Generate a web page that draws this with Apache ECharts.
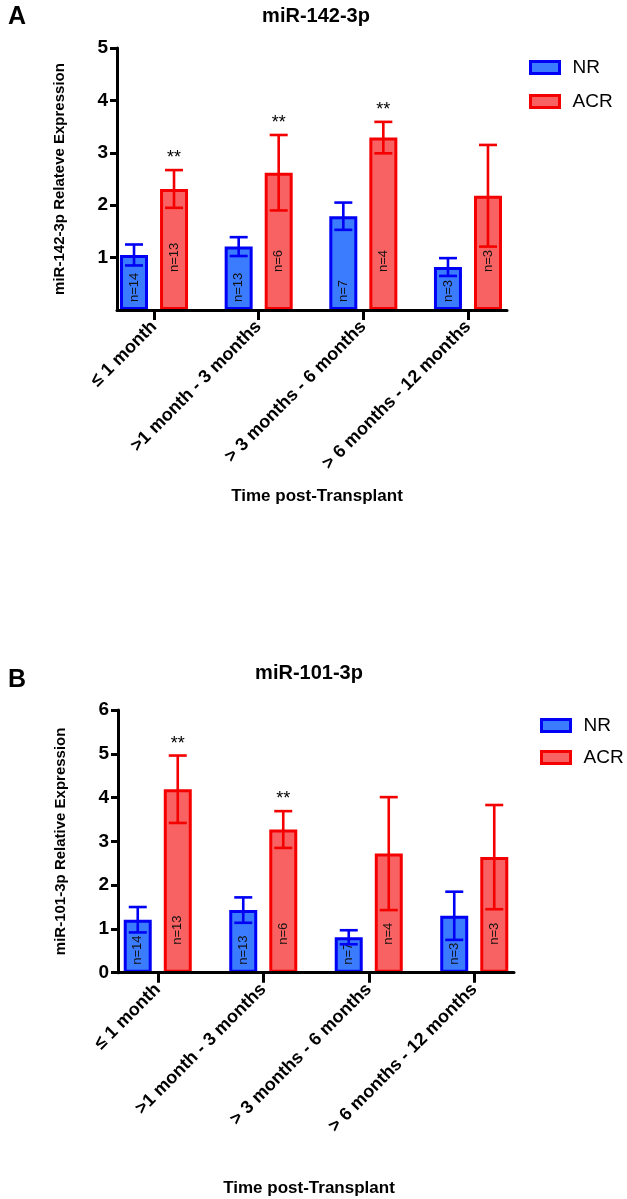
<!DOCTYPE html>
<html>
<head>
<meta charset="utf-8">
<script src="https://cdn.jsdelivr.net/npm/echarts@6/dist/echarts.min.js"></script>
<style>
html,body{margin:0;padding:0;background:#fff;}
#chart{width:627px;height:1199px;}
</style>
</head>
<body>
<div id="chart"></div>
<script>
// ---------- data ----------
const categories = ['≤ 1 month', '>1 month - 3 months', '> 3 months - 6 months', '> 6 months - 12 months'];
const seriesNames = ['NR', 'ACR'];

// Panel A : miR-142-3p
const titleA = 'miR-142-3p';
const yNameA = 'miR-142-3p Relateve Expression';
const nrMeanA = [1.05, 1.21, 1.79, 0.82];
const nrErrA = [0.20, 0.18, 0.26, 0.17];
const acrMeanA = [2.31, 2.62, 3.29, 2.18];
const acrErrA = [0.36, 0.72, 0.30, 0.97];
const nrCountA = [14, 13, 7, 3];
const acrCountA = [13, 6, 4, 3];
const acrSigA = ['**', '**', '**', ''];
const yTicksA = [1, 2, 3, 4, 5];
const yMaxA = 5;

// Panel B : miR-101-3p
const titleB = 'miR-101-3p';
const yNameB = 'miR-101-3p Relative Expression';
const nrMeanB = [1.21, 1.43, 0.81, 1.30];
const nrErrB = [0.29, 0.29, 0.16, 0.55];
const acrMeanB = [4.19, 3.27, 2.72, 2.64];
const acrErrB = [0.77, 0.42, 1.29, 1.19];
const nrCountB = [14, 13, 7, 3];
const acrCountB = [13, 6, 4, 3];
const acrSigB = ['**', '**', '', ''];
const yTicksB = [0, 1, 2, 3, 4, 5, 6];
const yMaxB = 6;

const xTitle = 'Time post-Transplant';

// ---------- styles ----------
const FONT = '"Liberation Sans", Arial, Helvetica, sans-serif';
const NR_FILL = '#3b7bfd', NR_EDGE = '#0000f5';
const ACR_FILL = '#f86262', ACR_EDGE = '#f50000';
const BAR_W = 28, BAR_GAP = '43%', HALF_SEP = 20, CAP = 18;

const option = {
  backgroundColor: '#fff',
  animation: false,
  title: [],
  legend: [],
  grid: [],
  xAxis: [],
  yAxis: [],
  series: []
};

function errorSeries(xi, means, errs, sigs, offset, color) {
  return {
    type: 'custom',
    xAxisIndex: xi, yAxisIndex: xi,
    silent: true,
    z: 4,
    data: means.map((m, i) => [i, m, errs[i]]),
    encode: { x: 0, y: 1 },
    renderItem: function (params, api) {
      const i = api.value(0), m = api.value(1), e = api.value(2);
      const c = api.coord([i, m]);
      const t = api.coord([i, m + e]);
      const b = api.coord([i, m - e]);
      const x = c[0] + offset;
      const ls = { stroke: color, lineWidth: 2.6 };
      const children = [
        { type: 'line', shape: { x1: x, y1: t[1], x2: x, y2: b[1] }, style: ls },
        { type: 'line', shape: { x1: x - CAP / 2, y1: t[1], x2: x + CAP / 2, y2: t[1] }, style: ls },
        { type: 'line', shape: { x1: x - CAP / 2, y1: b[1], x2: x + CAP / 2, y2: b[1] }, style: ls }
      ];
      const s = sigs ? sigs[params.dataIndex] : '';
      if (s) {
        children.push({ type: 'text', x: x, y: t[1] - 3,
          style: { text: s, fill: '#000', font: '18px ' + FONT, align: 'center', verticalAlign: 'bottom' } });
      }
      return { type: 'group', children: children };
    }
  };
}

function addPanel(p) {
  const gAx = option.grid.length;
  const gData = gAx + 1;
  option.grid.push({ left: p.axisLeft, top: p.top, width: p.axisRight - p.axisLeft, height: p.height });
  option.grid.push({ left: p.dataLeft, top: p.top, width: p.dataRight - p.dataLeft, height: p.height });

  option.xAxis.push({
    gridIndex: gAx, type: 'category', data: [''], z: 6,
    axisLine: { show: true, lineStyle: { color: '#000', width: 3 } },
    axisTick: { show: false }, axisLabel: { show: false }, splitLine: { show: false }
  });
  option.xAxis.push({
    gridIndex: gData, type: 'category', data: categories, z: 6,
    axisLine: { show: false },
    axisTick: { show: true, alignWithLabel: true, length: 10, lineStyle: { color: '#000', width: 3 } },
    axisLabel: { interval: 0, rotate: 45, margin: 14, color: '#000', fontSize: 18, fontWeight: 'bold', fontFamily: FONT }
  });
  option.yAxis.push({
    gridIndex: gAx, type: 'value', min: 0, max: p.yMax, interval: 1, z: 6,
    axisLine: { show: true, lineStyle: { color: '#000', width: 3 } },
    axisTick: { show: true, length: 7, customValues: p.yTicks, lineStyle: { color: '#000', width: 3 } },
    axisLabel: { margin: 9, customValues: p.yTicks, color: '#000', fontSize: 19, fontWeight: 'bold', fontFamily: FONT },
    splitLine: { show: false },
    name: p.yName, nameLocation: 'middle', nameGap: 50,
    nameTextStyle: { color: '#000', fontSize: 15, fontWeight: 'bold', fontFamily: FONT }
  });
  option.yAxis.push({ gridIndex: gData, type: 'value', min: 0, max: p.yMax, show: false });

  const nrLabel = {
    show: true, position: 'insideBottom', distance: 8, rotate: 90, align: 'left', verticalAlign: 'middle',
    color: '#111', fontSize: 13, fontFamily: FONT,
    formatter: prm => 'n=' + p.nrCount[prm.dataIndex]
  };
  const acrLabel = {
    show: true, position: 'insideBottom', distance: p.acrLabelLift, rotate: 90, align: 'left', verticalAlign: 'middle',
    color: '#111', fontSize: 13, fontFamily: FONT,
    formatter: prm => 'n=' + p.acrCount[prm.dataIndex]
  };

  option.series.push({
    type: 'bar', name: seriesNames[0], xAxisIndex: gData, yAxisIndex: gData,
    data: p.nrMean, barWidth: BAR_W, barGap: BAR_GAP, z: 2,
    itemStyle: { color: NR_FILL, borderColor: NR_EDGE, borderWidth: 3 },
    label: nrLabel
  });
  option.series.push({
    type: 'bar', name: seriesNames[1], xAxisIndex: gData, yAxisIndex: gData,
    data: p.acrMean, barWidth: BAR_W, barGap: BAR_GAP, z: 2,
    itemStyle: { color: ACR_FILL, borderColor: ACR_EDGE, borderWidth: 3 },
    label: acrLabel
  });
  option.series.push(errorSeries(gData, p.nrMean, p.nrErr, null, -HALF_SEP, NR_EDGE));
  option.series.push(errorSeries(gData, p.acrMean, p.acrErr, p.acrSig, HALF_SEP, ACR_EDGE));

  option.legend.push({
    left: p.legendLeft, top: p.legendTop, orient: 'vertical', selectedMode: false,
    data: seriesNames, icon: 'rect', itemWidth: 29, itemHeight: 12, itemGap: p.legendGap,
    itemStyle: { borderWidth: 3 },
    textStyle: { color: '#000', fontSize: 19, fontFamily: FONT, padding: [0, 0, 0, 8] }
  });

  option.title.push({ text: p.letter, left: 3, top: p.letterTop,
    textStyle: { color: '#000', fontSize: 25, fontWeight: 'bold', fontFamily: FONT } });
  option.title.push({ text: p.title, left: p.titleX, top: p.titleTop, textAlign: 'center',
    textStyle: { color: '#000', fontSize: 20, fontWeight: 'bold', fontFamily: FONT } });
  option.title.push({ text: xTitle, left: p.xTitleX, top: p.xTitleTop, textAlign: 'center',
    textStyle: { color: '#000', fontSize: 17, fontWeight: 'bold', fontFamily: FONT } });
}

addPanel({
  top: 48, height: 262, axisLeft: 117, axisRight: 507, dataLeft: 101.7, dataRight: 520.3,
  yMax: yMaxA, yTicks: yTicksA, yName: yNameA,
  nrMean: nrMeanA, nrErr: nrErrA, acrMean: acrMeanA, acrErr: acrErrA,
  nrCount: nrCountA, acrCount: acrCountA, acrSig: acrSigA, acrLabelLift: 38,
  legendLeft: 524, legendTop: 53, legendGap: 15,
  letter: 'A', letterTop: 0, title: titleA, titleX: 311, titleTop: 1,
  xTitleX: 312, xTitleTop: 483
});
addPanel({
  top: 710, height: 262.7, axisLeft: 118, axisRight: 514, dataLeft: 105, dataRight: 527,
  yMax: yMaxB, yTicks: yTicksB, yName: yNameB,
  nrMean: nrMeanB, nrErr: nrErrB, acrMean: acrMeanB, acrErr: acrErrB,
  nrCount: nrCountB, acrCount: acrCountB, acrSig: acrSigB, acrLabelLift: 28,
  legendLeft: 535, legendTop: 711, legendGap: 13,
  letter: 'B', letterTop: 663, title: titleB, titleX: 304, titleTop: 658,
  xTitleX: 304, xTitleTop: 1175
});

const chart = echarts.init(document.getElementById('chart'), null, { renderer: 'canvas' });
chart.setOption(option);
</script>
</body>
</html>
